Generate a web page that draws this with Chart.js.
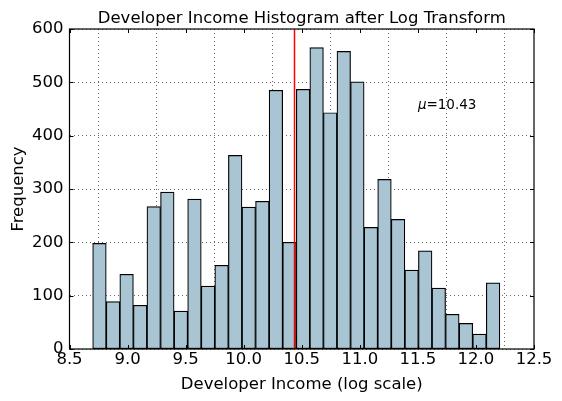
<!DOCTYPE html>
<html>
<head>
<meta charset="utf-8">
<script src="https://cdn.jsdelivr.net/npm/chart.js@4/dist/chart.umd.min.js"></script>
<style>
  html, body { margin: 0; padding: 0; background: #fff; }
  #wrap { width: 562px; height: 401px; }
</style>
</head>
<body>
<div id="wrap"><canvas id="hist"></canvas></div>
<script>
// histogram of log(income): 30 equal bins between min and max
const binStart = 8.6995;
const binEnd = 12.206;
const counts = [198, 89, 140, 82, 267, 294, 71, 281, 118, 157,
                363, 266, 277, 485, 200, 487, 565, 443, 558, 501,
                228, 318, 243, 148, 184, 114, 65, 48, 28, 124];
const meanValue = 10.43;
const xTicks = [8.5, 9.0, 9.5, 10.0, 10.5, 11.0, 11.5, 12.0, 12.5];
const yTicks = [0, 100, 200, 300, 400, 500, 600];

const binWidth = (binEnd - binStart) / counts.length;
const points = counts.map((c, i) => ({ x: binStart + binWidth * (i + 0.5), y: c }));

const FONT = 'DejaVu Sans';
const SIZE = 16.5;

// frame, inward ticks, mean line, annotation and title
const extras = {
    id: 'extras',
    afterDatasetsDraw(chart) {
        const { ctx, chartArea: a, scales: { x, y } } = chart;
        ctx.save();

        // mean line
        const mx = Math.round(x.getPixelForValue(meanValue)) + 0.5;
        ctx.strokeStyle = '#ff0000';
        ctx.lineWidth = 1.5;
        ctx.beginPath();
        ctx.moveTo(mx, a.top);
        ctx.lineTo(mx, a.bottom);
        ctx.stroke();

        // inward tick marks on all four sides
        ctx.strokeStyle = '#000';
        ctx.lineWidth = 1;
        ctx.beginPath();
        xTicks.forEach(v => {
            const px = Math.round(x.getPixelForValue(v)) + 0.5;
            ctx.moveTo(px, a.bottom); ctx.lineTo(px, a.bottom - 4);
            ctx.moveTo(px, a.top); ctx.lineTo(px, a.top + 4);
        });
        yTicks.forEach(v => {
            const py = Math.round(y.getPixelForValue(v)) + 0.5;
            ctx.moveTo(a.left, py); ctx.lineTo(a.left + 4, py);
            ctx.moveTo(a.right, py); ctx.lineTo(a.right - 4, py);
        });
        ctx.stroke();

        // frame
        ctx.lineWidth = 1.2;
        ctx.strokeRect(a.left, a.top, a.right - a.left, a.bottom - a.top);

        // mu annotation
        const tx = x.getPixelForValue(11.5);
        const ty = y.getPixelForValue(450);
        ctx.fillStyle = '#000';
        ctx.textBaseline = 'alphabetic';
        ctx.textAlign = 'left';
        ctx.font = 'italic 13.5px ' + FONT;
        ctx.fillText('\u03bc', tx, ty);
        const mw = ctx.measureText('\u03bc').width;
        ctx.font = '13.5px ' + FONT;
        ctx.fillText('=10.43', tx + mw, ty);

        // title
        ctx.font = SIZE + 'px ' + FONT;
        ctx.textAlign = 'center';
        ctx.fillText('Developer Income Histogram after Log Transform', (a.left + a.right) / 2, 23);
        ctx.restore();
    }
};

new Chart(document.getElementById('hist'), {
    type: 'bar',
    data: {
        datasets: [{
            data: points,
            backgroundColor: '#a9c5d3',
            borderColor: '#000000',
            borderWidth: 1.2,
            barPercentage: 1.0,
            categoryPercentage: 1.0,
            borderSkipped: false
        }]
    },
    options: {
        responsive: true,
        maintainAspectRatio: false,
        animation: false,
        layout: { padding: { left: 0, right: 28, top: 29, bottom: 0 } },
        plugins: {
            legend: { display: false },
            tooltip: { enabled: false },
            title: { display: false }
        },
        scales: {
            x: {
                type: 'linear',
                min: 8.5,
                max: 12.5,
                offset: false,
                afterFit: s => { s.height = 52; },
                afterBuildTicks: s => { s.ticks = xTicks.map(v => ({ value: v })); },
                grid: { color: '#000', lineWidth: 0.6, drawTicks: false },
                border: { display: false, dash: [1, 3] },
                ticks: {
                    color: '#000',
                    font: { family: FONT, size: SIZE },
                    padding: 1,
                    maxRotation: 0,
                    callback: v => v.toFixed(1)
                },
                title: {
                    display: true,
                    text: 'Developer Income (log scale)',
                    color: '#000',
                    font: { family: FONT, size: SIZE },
                    padding: { top: 0, bottom: 6 }
                }
            },
            y: {
                min: 0,
                max: 600,
                afterFit: s => { s.width = 69.5; },
                afterBuildTicks: s => { s.ticks = yTicks.map(v => ({ value: v })); },
                grid: { color: '#000', lineWidth: 0.6, drawTicks: false },
                border: { display: false, dash: [1, 3] },
                ticks: {
                    color: '#000',
                    font: { family: FONT, size: SIZE },
                    padding: 6
                },
                title: {
                    display: true,
                    text: 'Frequency',
                    color: '#000',
                    font: { family: FONT, size: SIZE },
                    padding: { top: 9, bottom: 0 }
                }
            }
        }
    },
    plugins: [extras]
});
</script>
</body>
</html>
